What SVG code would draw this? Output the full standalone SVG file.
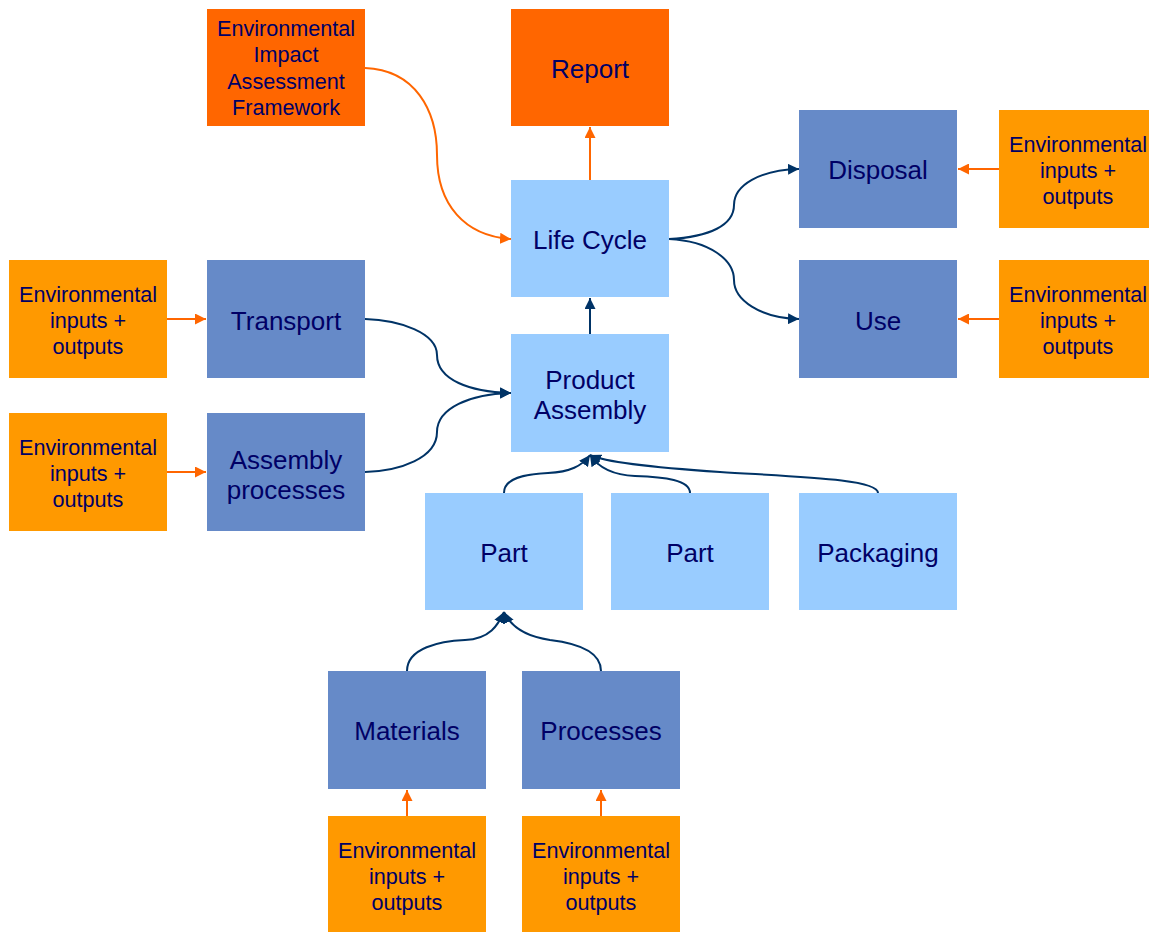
<svg xmlns="http://www.w3.org/2000/svg" width="1149" height="932" viewBox="0 0 1149 932">
<defs>
<style>
.red{fill:#FF6600}
.lb{fill:#99CCFF}
.mb{fill:#668AC8}
.or{fill:#FF9900}
text{font-family:"Liberation Sans",Arial,sans-serif;fill:#000066;text-anchor:middle}
.big{font-size:26px}
.sm{font-size:21.6px}
.cb{fill:none;stroke:#003366;stroke-width:2;marker-end:url(#ab)}
.co{fill:none;stroke:#FF6600;stroke-width:2;marker-end:url(#ao)}
</style>
<marker id="ab" viewBox="0 0 10 10" refX="10" refY="5" markerWidth="5.5" markerHeight="5.5" orient="auto" markerUnits="strokeWidth"><path d="M0,0L10,5L0,10z" fill="#003366"/></marker>
<marker id="ao" viewBox="0 0 10 10" refX="10" refY="5" markerWidth="5.5" markerHeight="5.5" orient="auto" markerUnits="strokeWidth"><path d="M0,0L10,5L0,10z" fill="#FF6600"/></marker>
</defs>
<rect width="1149" height="932" fill="#fff"/>
<g id="connectors">
<path class="co" d="M365,68 C415,70 437,110 437,155 C437,205 465,236 511,239"/>
<path class="co" d="M590,180 L590,127"/>
<path class="cb" d="M590,334 L590,298"/>
<path class="cb" d="M669,239 C710,237 734,225 734,205 C734,185 760,170 799,169"/>
<path class="cb" d="M669,239 C710,241 734,260 734,280 C734,300 760,318 799,319"/>
<path class="co" d="M999,169 L958,169"/>
<path class="co" d="M999,319 L958,319"/>
<path class="co" d="M167,319 L206,319"/>
<path class="co" d="M167,472 L206,472"/>
<path class="cb" d="M365,319 C400,320 437,333 437,355 C437,380 470,392 511,393"/>
<path class="cb" d="M365,472 C400,471 437,458 437,432 C437,408 470,394 511,393"/>
<path class="cb" d="M504,493 C504,478 525,474 548,473 C570,472 582,466 590,455"/>
<path class="cb" d="M690,493 C690,480 665,477 635,476 C612,475 598,467 590,455"/>
<path class="cb" d="M878,493 C878,479 800,477 720,472 C645,467 605,462 590,455"/>
<path class="cb" d="M407,671 C407,648 440,641 465,640 C490,639 498,625 504,612"/>
<path class="cb" d="M601,671 C601,650 575,643 550,640 C522,636 510,625 504,612"/>
<path class="co" d="M407,816 L407,790"/>
<path class="co" d="M601,816 L601,790"/>
</g>
<g id="eia"><rect class="red" x="207" y="9" width="158" height="117"/><text class="sm" x="286" y="36">Environmental</text><text class="sm" x="286" y="62">Impact</text><text class="sm" x="286" y="89">Assessment</text><text class="sm" x="286" y="115">Framework</text></g>
<g id="report"><rect class="red" x="511" y="9" width="158" height="117"/><text class="big" x="590" y="78">Report</text></g>
<g id="lifecycle"><rect class="lb" x="511" y="180" width="158" height="117"/><text class="big" x="590" y="249">Life Cycle</text></g>
<g id="disposal"><rect class="mb" x="799" y="110" width="158" height="118"/><text class="big" x="878" y="179">Disposal</text></g>
<g id="use"><rect class="mb" x="799" y="260" width="158" height="118"/><text class="big" x="878" y="330">Use</text></g>
<g id="env-disposal"><rect class="or" x="999" y="110" width="150" height="118"/><text class="sm" x="1078" y="152">Environmental</text><text class="sm" x="1078" y="178">inputs +</text><text class="sm" x="1078" y="204">outputs</text></g>
<g id="env-use"><rect class="or" x="999" y="260" width="150" height="118"/><text class="sm" x="1078" y="302">Environmental</text><text class="sm" x="1078" y="328">inputs +</text><text class="sm" x="1078" y="354">outputs</text></g>
<g id="env-transport"><rect class="or" x="9" y="260" width="158" height="118"/><text class="sm" x="88" y="302">Environmental</text><text class="sm" x="88" y="328">inputs +</text><text class="sm" x="88" y="354">outputs</text></g>
<g id="transport"><rect class="mb" x="207" y="260" width="158" height="118"/><text class="big" x="286" y="330">Transport</text></g>
<g id="env-assembly"><rect class="or" x="9" y="413" width="158" height="118"/><text class="sm" x="88" y="455">Environmental</text><text class="sm" x="88" y="481">inputs +</text><text class="sm" x="88" y="507">outputs</text></g>
<g id="assembly-processes"><rect class="mb" x="207" y="413" width="158" height="118"/><text class="big" x="286" y="469">Assembly</text><text class="big" x="286" y="499">processes</text></g>
<g id="product-assembly"><rect class="lb" x="511" y="334" width="158" height="118"/><text class="big" x="590" y="389">Product</text><text class="big" x="590" y="419">Assembly</text></g>
<g id="part1"><rect class="lb" x="425" y="493" width="158" height="117"/><text class="big" x="504" y="562">Part</text></g>
<g id="part2"><rect class="lb" x="611" y="493" width="158" height="117"/><text class="big" x="690" y="562">Part</text></g>
<g id="packaging"><rect class="lb" x="799" y="493" width="158" height="117"/><text class="big" x="878" y="562">Packaging</text></g>
<g id="materials"><rect class="mb" x="328" y="671" width="158" height="118"/><text class="big" x="407" y="740">Materials</text></g>
<g id="processes"><rect class="mb" x="522" y="671" width="158" height="118"/><text class="big" x="601" y="740">Processes</text></g>
<g id="env-materials"><rect class="or" x="328" y="816" width="158" height="116"/><text class="sm" x="407" y="858">Environmental</text><text class="sm" x="407" y="884">inputs +</text><text class="sm" x="407" y="910">outputs</text></g>
<g id="env-processes"><rect class="or" x="522" y="816" width="158" height="116"/><text class="sm" x="601" y="858">Environmental</text><text class="sm" x="601" y="884">inputs +</text><text class="sm" x="601" y="910">outputs</text></g>
</svg>
